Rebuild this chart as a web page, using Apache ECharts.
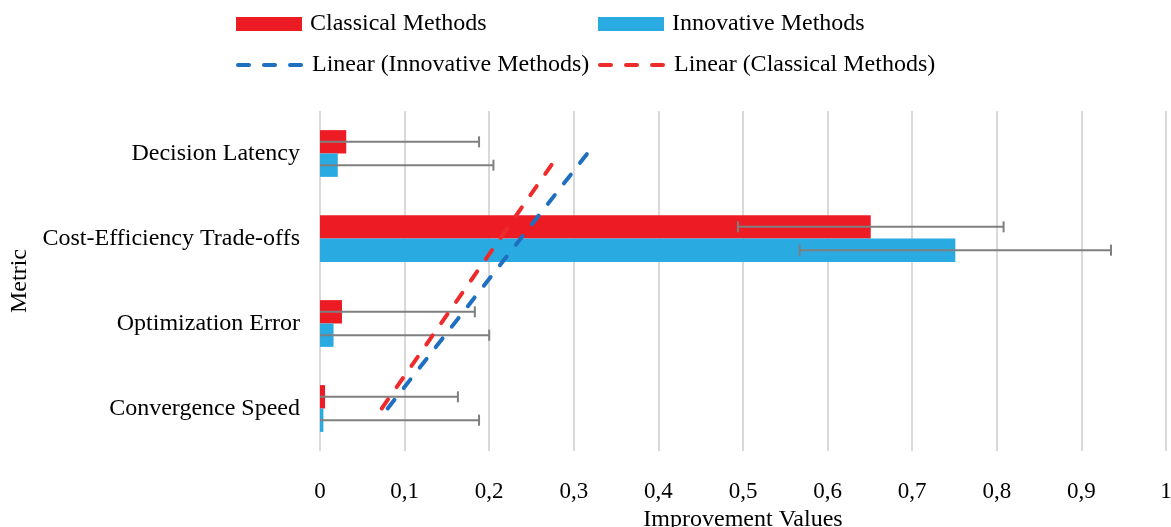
<!DOCTYPE html>
<html><head><meta charset="utf-8">
<script src="https://cdn.jsdelivr.net/npm/echarts@6/dist/echarts.min.js"></script>
<style>html,body{margin:0;padding:0;background:#fff}#c{width:1171px;height:527px}</style>
</head><body><div id="c"></div>
<script>
// Data (bottom to top)
const categories = ['Convergence Speed', 'Optimization Error', 'Cost-Efficiency Trade-offs', 'Decision Latency'];
const classicalValues = [0.006, 0.026, 0.651, 0.031];
const innovativeValues = [0.004, 0.016, 0.751, 0.021];
const classicalErrors = [0.157, 0.157, 0.157, 0.157];
const innovativeErrors = [0.184, 0.184, 0.184, 0.184];
// Linear trendline values read at first and last category
const classicalTrend = [0.073, 0.283];
const innovativeTrend = [0.080, 0.316];
const xTickLabels = ['0', '0,1', '0,2', '0,3', '0,4', '0,5', '0,6', '0,7', '0,8', '0,9', '1'];

const FONT = "'Liberation Serif', 'Times New Roman', serif";
const RED = '#ED1C24', BLUE = '#29ABE2', TRED = '#EE2B2B', TBLUE = '#1F6FC1';
const CAT_GAP = 0.45;

function errorSeries(values, errors, sign) {
  return {
    type: 'custom', silent: true, z: 5,
    data: values.map((v, i) => [Math.max(0, v - errors[i]), v + errors[i], i, v - errors[i] < 0 ? 0 : 1]),
    encode: { x: [0, 1], y: 2 },
    renderItem(params, api) {
      const lo = api.value(0), hi = api.value(1), idx = api.value(2), capLo = api.value(3);
      const p1 = api.coord([lo, idx]), p2 = api.coord([hi, idx]);
      const band = api.size([0, 1])[1];
      const barW = band * (1 - CAT_GAP) / 2;
      const y = p1[1] + sign * barW / 2;
      const st = { stroke: '#7F7F7F', lineWidth: 2 };
      const h = 5.5;
      const ch = [
        { type: 'line', shape: { x1: p1[0], y1: y, x2: p2[0], y2: y }, style: st },
        { type: 'line', shape: { x1: p2[0], y1: y - h, x2: p2[0], y2: y + h }, style: st }
      ];
      if (capLo) ch.push({ type: 'line', shape: { x1: p1[0], y1: y - h, x2: p1[0], y2: y + h }, style: st });
      return { type: 'group', children: ch };
    }
  };
}

const last = categories.length - 1;
const legendBase = {
  itemWidth: 66, itemHeight: 14, icon: 'rect',
  textStyle: { fontSize: 24, fontFamily: FONT, color: '#000', padding: [0, 0, 0, 3] }
};
const legendLine = {
  itemWidth: 66, itemHeight: 14,
  itemStyle: { color: 'transparent', borderColor: 'transparent', borderWidth: 0 },
  lineStyle: { width: 4, type: [11, 15], cap: 'round' },
  textStyle: { fontSize: 24, fontFamily: FONT, color: '#000', padding: [0, 0, 0, 3] }
};

const option = {
  animation: false,
  backgroundColor: '#fff',
  legend: [
    Object.assign({ data: ['Classical Methods'], left: 231, top: 7 }, legendBase),
    Object.assign({ data: ['Innovative Methods'], left: 593, top: 7 }, legendBase),
    Object.assign({ data: ['Linear (Innovative Methods)'], left: 231, top: 48 }, legendLine),
    Object.assign({ data: ['Linear (Classical Methods)'], left: 593, top: 48 }, legendLine)
  ],
  grid: { left: 320, right: 5, top: 111, bottom: 76, containLabel: false, outerBoundsMode: 'none' },
  xAxis: {
    type: 'value', min: 0, max: 1, interval: 0.1,
    axisLine: { show: false }, axisTick: { show: false },
    splitLine: { show: true, lineStyle: { color: '#D9D9D9', width: 2 } },
    axisLabel: { fontSize: 23, fontFamily: FONT, color: '#000', margin: 29,
      formatter: v => xTickLabels[Math.round(v * 10)] },
    name: 'Improvement Values', nameLocation: 'middle', nameGap: 57,
    nameTextStyle: { fontSize: 24, fontFamily: FONT, color: '#000' }
  },
  yAxis: {
    type: 'category', data: categories,
    axisLine: { show: false }, axisTick: { show: false }, splitLine: { show: false },
    axisLabel: { fontSize: 24, fontFamily: FONT, color: '#000', margin: 20 },
    name: 'Metric', nameLocation: 'middle', nameGap: 286, nameRotate: 90,
    nameTextStyle: { fontSize: 24, fontFamily: FONT, color: '#000' }
  },
  series: [
    { name: 'Classical Methods', type: 'bar', data: classicalValues, barGap: '0%', barCategoryGap: '45%',
      itemStyle: { color: RED } },
    { name: 'Innovative Methods', type: 'bar', data: innovativeValues, barGap: '0%', barCategoryGap: '45%',
      itemStyle: { color: BLUE } },
    errorSeries(classicalValues, classicalErrors, -1),
    errorSeries(innovativeValues, innovativeErrors, 1),
    { name: 'Linear (Innovative Methods)', type: 'line', symbol: 'none', z: 6,
      data: [[innovativeTrend[0], 0], [innovativeTrend[1], last]],
      lineStyle: { color: TBLUE, width: 4, type: [11, 15], cap: 'round' }, itemStyle: { color: TBLUE } },
    { name: 'Linear (Classical Methods)', type: 'line', symbol: 'none', z: 6,
      data: [[classicalTrend[0], 0], [classicalTrend[1], last]],
      lineStyle: { color: TRED, width: 4, type: [11, 15], cap: 'round' }, itemStyle: { color: TRED } }
  ]
};
const chart = echarts.init(document.getElementById('c'));
chart.setOption(option);
</script>
</body></html>
